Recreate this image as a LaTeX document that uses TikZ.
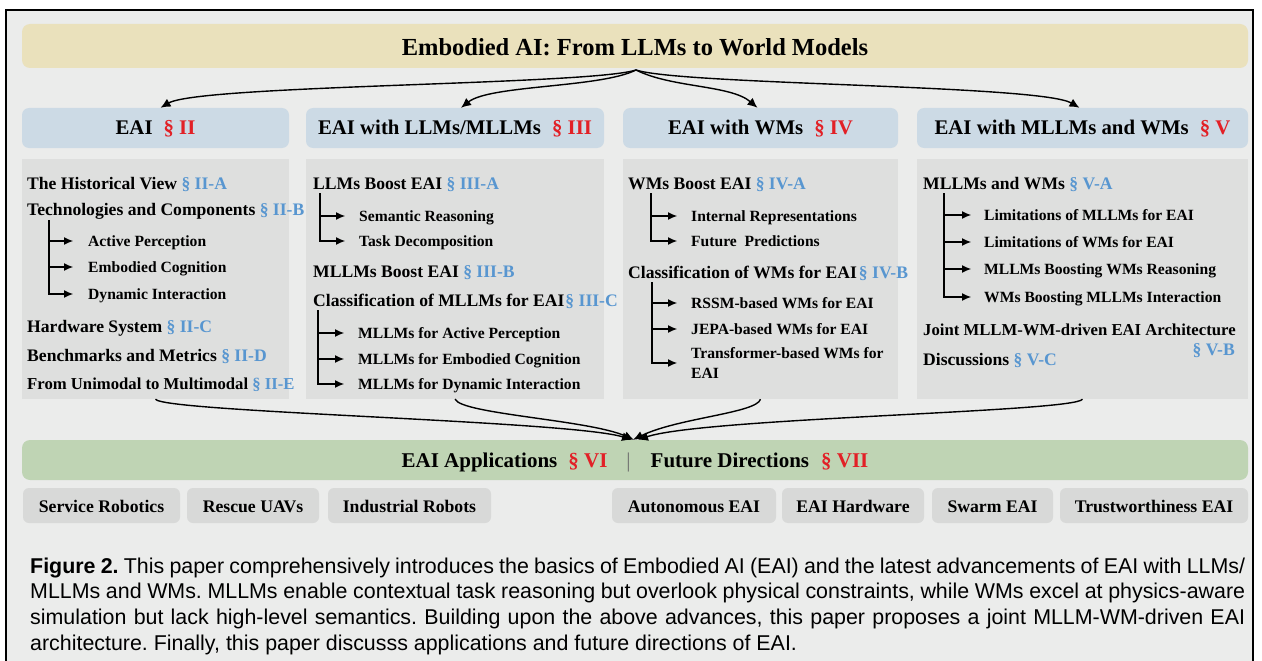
\documentclass[tikz,border=0pt]{standalone}
\usepackage{fontspec}
\setmainfont{Liberation Serif}
\newfontfamily\captionsans{Liberation Sans}
\usetikzlibrary{arrows.meta,calc}
\frenchspacing

\definecolor{framebg}{RGB}{235,236,235}
\definecolor{titlebg}{RGB}{234,225,188}
\definecolor{headbg}{RGB}{204,218,229}
\definecolor{colbg}{RGB}{222,223,222}
\definecolor{appbg}{RGB}{191,212,180}
\definecolor{tagbg}{RGB}{216,217,216}
\definecolor{secred}{RGB}{226,32,38}
\definecolor{secblue}{RGB}{88,150,208}
\definecolor{divgray}{RGB}{110,110,110}

\newcommand{\secR}[1]{\textcolor{secred}{§ #1}}
\newcommand{\secB}[1]{\textcolor{secblue}{§ #1}}

\tikzset{
  titlebar/.style={fill=titlebg, rounded corners=8pt, inner sep=0pt, minimum width=1226pt,
    minimum height=44pt, text height=20pt, text depth=0pt, font=\fontsize{24.5}{28}\selectfont\bfseries},
  headbox/.style={fill=headbg, rounded corners=7pt, inner sep=0pt, minimum height=40pt,
    text height=16pt, text depth=2pt, font=\fontsize{20.8}{24}\selectfont\bfseries},
  colbox/.style={fill=colbg, inner sep=0pt, minimum height=240pt},
  appbar/.style={fill=appbg, rounded corners=8pt, inner sep=0pt, minimum width=1226pt,
    minimum height=40pt, text height=16pt, text depth=2pt, font=\fontsize{21}{24}\selectfont\bfseries},
  tagbox/.style={fill=tagbg, rounded corners=6pt, inner sep=0pt, minimum height=35pt,
    text height=16pt, text depth=2pt, font=\fontsize{17.7}{20}\selectfont\bfseries},
  topic/.style={anchor=base west, inner sep=0pt, font=\fontsize{17.6}{20}\selectfont\bfseries},
  squeezed/.style={font=\fontsize{16.7}{20}\selectfont\bfseries},
  subtopic/.style={anchor=base west, inner sep=0pt, text height=12pt, text depth=2pt,
    font=\fontsize{15.6}{20}\selectfont\bfseries},
  branch/.style={line width=1.1pt, -{Latex[length=9pt,width=8pt]}},
  flow/.style={line width=1.4pt, -{Latex[length=10pt,width=9pt]}},
  capline/.style={anchor=base west, inner sep=0pt, font=\captionsans\fontsize{21.4}{26}\selectfont},
}

\begin{document}
\begin{tikzpicture}[x=1pt,y=-1pt]
\useasboundingbox (0,0) rectangle (1262,661);
\clip (0,0) rectangle (1262,661);

% outer frame
\draw[line width=1.4pt, fill=framebg] (6,10) rectangle (1253,680);

% title
\node[titlebar] (title) at (635,46) {Embodied AI: From LLMs to World Models};

% section headers
\node[headbox, minimum width=267pt] (h1) at (155.5,128) {EAI\hspace{11pt}\secR{II}};
\node[headbox, minimum width=298pt] (h2) at (455,128) {EAI with LLMs/MLLMs\hspace{11pt}\secR{III}};
\node[headbox, minimum width=275pt] (h3) at (760.5,128) {EAI with WMs\hspace{11pt}\secR{IV}};
\node[headbox, minimum width=331pt] (h4) at (1082.5,128) {EAI with MLLMs and WMs\hspace{11pt}\secR{V}};

% content panels
\node[colbox, minimum width=267pt] (col1) at (155.5,279) {};
\node[colbox, minimum width=298pt] (col2) at (455,279) {};
\node[colbox, minimum width=275pt] (col3) at (760.5,279) {};
\node[colbox, minimum width=331pt] (col4) at (1082.5,279) {};

% fan-out from the title
\coordinate (fan) at (636,70);
\draw[flow] (fan) .. controls +(-46,15) and +(39,-23) .. ([xshift=5pt]h1.north);
\draw[flow] (fan) .. controls +(-36,18) and +(29,-23) .. ([xshift=6pt]h2.north);
\draw[flow] (fan) .. controls +(36,18) and +(-27,-23) .. ([xshift=-3pt]h3.north);
\draw[flow] (fan) .. controls +(46,15) and +(-39,-23) .. ([xshift=-3pt]h4.north);

% ---- column 1: EAI
\node[topic] (a1) at (27,189) {The Historical View \secB{II-A}};
\node[topic] (a2) at (27,215) {Technologies and Components \secB{II-B}};
\node[subtopic] (a2s1) at (88,246) {Active Perception};
\node[subtopic] (a2s2) at (88,272) {Embodied Cognition};
\node[subtopic] (a2s3) at (88,299) {Dynamic Interaction};
\node[topic] (a3) at (27,332) {Hardware System \secB{II-C}};
\node[topic] (a4) at (27,361) {Benchmarks and Metrics \secB{II-D}};
\node[topic, squeezed] (a5) at (27,389) {From Unimodal to Multimodal \secB{II-E}};
\foreach \c in {a2s1,a2s2,a2s3}
  \draw[branch] ($(a2.base west)+(22,5)$) |- ([xshift=-15pt]\c.west);

% ---- column 2: EAI with LLMs/MLLMs
\node[topic] (b1) at (313,189) {LLMs Boost EAI \secB{III-A}};
\node[subtopic] (b1s1) at (359,221) {Semantic Reasoning};
\node[subtopic] (b1s2) at (359,246) {Task Decomposition};
\node[topic] (b2) at (313,277) {MLLMs Boost EAI \secB{III-B}};
\node[topic] (b3) at (313,306) {Classification of MLLMs for EAI\kern1pt\secB{III-C}};
\node[subtopic] (b3s1) at (358,338) {MLLMs for Active Perception};
\node[subtopic] (b3s2) at (358,364) {MLLMs for Embodied Cognition};
\node[subtopic] (b3s3) at (358,389) {MLLMs for Dynamic Interaction};
\foreach \c in {b1s1,b1s2}
  \draw[branch] ($(b1.base west)+(7,4)$) |- ([xshift=-14pt]\c.west);
\foreach \c in {b3s1,b3s2,b3s3}
  \draw[branch] ($(b3.base west)+(5,4)$) |- ([xshift=-14pt]\c.west);

% ---- column 3: EAI with WMs
\node[topic] (c1) at (628,189) {WMs Boost EAI \secB{IV-A}};
\node[subtopic] (c1s1) at (691,221) {Internal Representations};
\node[subtopic] (c1s2) at (691,246) {Future\ \ Predictions};
\node[topic] (c2) at (628,278) {Classification of WMs for EAI\kern2pt\secB{IV-B}};
\node[subtopic] (c2s1) at (691,308) {RSSM-based WMs for EAI};
\node[subtopic] (c2s2) at (691,334) {JEPA-based WMs for EAI};
\node[anchor=north west, inner sep=0pt, align=left, font=\fontsize{15.6}{20}\selectfont\bfseries]
  (c2s3) at (691,347.3) {Transformer-based WMs for\\EAI};
\foreach \c in {c1s1,c1s2}
  \draw[branch] ($(c1.base west)+(23,4)$) |- ([xshift=-14pt]\c.west);
\foreach \c in {c2s1,c2s2,c2s3}
  \draw[branch] ($(c2.base west)+(24,4)$) |- ([xshift=-14pt]\c.west);

% ---- column 4: EAI with MLLMs and WMs
\node[topic] (d1) at (923,189) {MLLMs and WMs \secB{V-A}};
\node[subtopic] (d1s1) at (984,220) {Limitations of MLLMs for EAI};
\node[subtopic] (d1s2) at (984,247) {Limitations of WMs for EAI};
\node[subtopic] (d1s3) at (984,274) {MLLMs Boosting WMs Reasoning};
\node[subtopic] (d1s4) at (984,302) {WMs Boosting MLLMs Interaction};
\node[topic, squeezed] (d2) at (923,335) {Joint MLLM-WM-driven EAI Architecture};
\node[topic, anchor=base east] (d2ref) at (1235,355) {\secB{V-B}};
\node[topic] (d3) at (923,365) {Discussions \secB{V-C}};
\foreach \c in {d1s1,d1s2,d1s3,d1s4}
  \draw[branch] ($(d1.base west)+(21,4)$) |- ([xshift=-13pt]\c.west);

% applications and future directions
\node[appbar] (app) at (635,460) {EAI Applications\hspace{11pt}\secR{VI}\hspace{19pt}\textcolor{divgray}{\mdseries|}\hspace{20pt}Future Directions\hspace{12pt}\secR{VII}};

% fan-in towards the applications bar
\draw[flow] (col1.south) .. controls +(8,13) and +(-60,-19) .. ([xshift=-3pt]app.north);
\draw[flow] (col2.south) .. controls +(7,15) and +(-45,-20) .. ([xshift=-1pt]app.north);
\draw[flow] (col3.south) .. controls +(-4,14) and +(45,-22) .. ([xshift=-2pt]app.north);
\draw[flow] (col4.south) .. controls +(-8,13) and +(65,-22) .. ([xshift=3pt]app.north);

% application and direction tags
\node[tagbox, minimum width=157pt] (t1) at (101.5,505.5) {Service Robotics};
\node[tagbox, minimum width=132pt] (t2) at (253,505.5) {Rescue UAVs};
\node[tagbox, minimum width=163pt] (t3) at (409.5,505.5) {Industrial Robots};
\node[tagbox, minimum width=164pt] (t4) at (694,505.5) {Autonomous EAI};
\node[tagbox, minimum width=142pt] (t5) at (853,505.5) {EAI Hardware};
\node[tagbox, minimum width=121pt] (t6) at (992.5,505.5) {Swarm EAI};
\node[tagbox, minimum width=188pt] (t7) at (1154,505.5) {Trustworthiness EAI};

% caption
\node[capline] (cap1) at (30,573) {\makebox[1215pt][s]{\textbf{Figure 2.} This paper comprehensively introduces the basics of Embodied AI (EAI) and the latest advancements of EAI with LLMs/}};
\node[capline] (cap2) at (30,598.7) {\makebox[1215pt][s]{MLLMs and WMs. MLLMs enable contextual task reasoning but overlook physical constraints, while WMs excel at physics-aware}};
\node[capline] (cap3) at (30,624.4) {\makebox[1215pt][s]{simulation but lack high-level semantics. Building upon the above advances, this paper proposes a joint MLLM-WM-driven EAI}};
\node[capline] (cap4) at (30,650) {architecture. Finally, this paper discusss applications and future directions of EAI.};
\end{tikzpicture}
\end{document}
